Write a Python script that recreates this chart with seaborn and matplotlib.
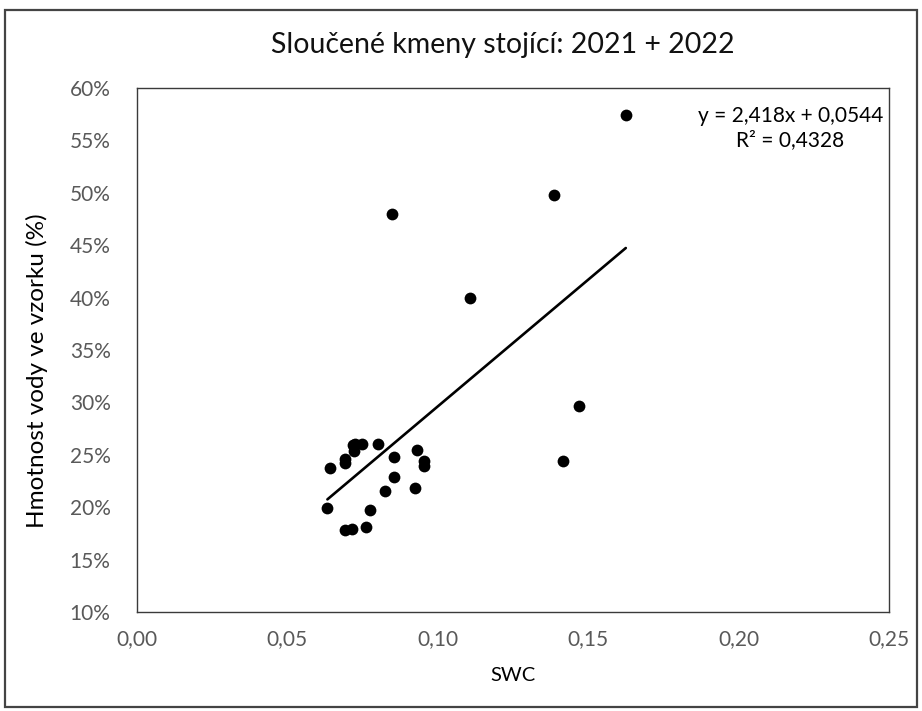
import matplotlib
matplotlib.use("Agg")
import matplotlib.pyplot as plt
from matplotlib.patches import Rectangle
from matplotlib.ticker import FuncFormatter, MultipleLocator
import numpy as np
import pandas as pd
import seaborn as sns

# SWC and water mass share (%) of the merged standing stems, 2021 + 2022
swc = [0.1625, 0.1385, 0.0848, 0.1108, 0.1470, 0.1417,
       0.0633, 0.0640, 0.0691, 0.0691, 0.0719, 0.0725, 0.0747, 0.0722,
       0.0800, 0.0854, 0.0854, 0.0824, 0.0776, 0.0762, 0.0691, 0.0716,
       0.0931, 0.0955, 0.0955, 0.0924]
water_pct = [57.4, 49.8, 48.0, 40.0, 29.7, 24.4,
             19.9, 23.7, 24.6, 24.2, 25.9, 26.0, 26.0, 25.4,
             26.0, 24.8, 22.9, 21.5, 19.7, 18.1, 17.8, 17.9,
             25.5, 24.4, 23.9, 21.8]

# linear trend as stated on the chart
slope = 2.418
intercept = 0.0544
r_squared = 0.4328

title = "Sloučené kmeny stojící: 2021 + 2022"
x_label = "SWC"
y_label = "Hmotnost vody ve vzorku (%)"

df = pd.DataFrame({"swc": swc, "water": np.array(water_pct) / 100.0})
x_ends = np.array([df["swc"].min(), df["swc"].max()])
trend = pd.DataFrame({"swc": x_ends, "water": slope * x_ends + intercept})

sns.set_theme(style="white")
plt.rcParams["font.family"] = ["Lato", "DejaVu Sans"]

fig = plt.figure(figsize=(9.22, 7.11), dpi=100)
ax = fig.add_axes([137 / 922, 1 - 612 / 711, (889 - 137) / 922, (612 - 88) / 711])

sns.scatterplot(data=df, x="swc", y="water", ax=ax, color="black",
                s=72, edgecolor="black", linewidth=0, zorder=3)
sns.lineplot(data=trend, x="swc", y="water", ax=ax, color="black",
             linewidth=1.9, zorder=2)

ax.set_xlim(0, 0.25)
ax.set_ylim(0.10, 0.60)
ax.xaxis.set_major_locator(MultipleLocator(0.05))
ax.yaxis.set_major_locator(MultipleLocator(0.05))
ax.xaxis.set_major_formatter(FuncFormatter(lambda v, p: f"{v:.2f}".replace(".", ",")))
ax.yaxis.set_major_formatter(FuncFormatter(lambda v, p: f"{round(v * 100):d}%"))
ax.tick_params(axis="both", length=0, labelsize=15, colors="#595959")
ax.tick_params(axis="x", pad=12)
ax.tick_params(axis="y", pad=19)

for side in ["top", "right", "bottom", "left"]:
    ax.spines[side].set_visible(True)
    ax.spines[side].set_color("#3a3a3a")
    ax.spines[side].set_linewidth(1.0)

ax.set_xlabel(x_label, fontsize=14.5, color="black", labelpad=13)
ax.set_ylabel(y_label, fontsize=17.5, color="black")
ax.yaxis.set_label_coords(-0.118, 0.46)

fig.text(0.545, 0.937, title, ha="center", va="center", fontsize=20.5, color="#111111")

eq_text = (f"y = {slope:.3f}x + {intercept:.4f}".replace(".", ",")
           + "\n" + f"R² = {r_squared:.4f}".replace(".", ","))
ax.text(0.2172, 0.583, eq_text, ha="center", va="top", fontsize=15,
        color="black", linespacing=1.25, multialignment="center")

# chart frame
fig.patches.append(Rectangle((5 / 922, 4 / 711), 912 / 922, 697 / 711,
                             transform=fig.transFigure, fill=False,
                             edgecolor="#444444", linewidth=1.6))

fig.savefig("out.png", dpi=100)
